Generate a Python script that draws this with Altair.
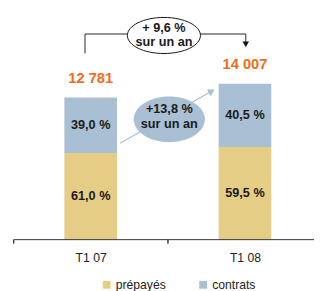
import altair as alt
import pandas as pd

# ---- data ----
periods = ["T1 07", "T1 08"]
totals = [12781, 14007]
series = ["prépayés", "contrats"]
prepaid_share = [61.0, 59.5]
contract_share = [39.0, 40.5]
top_note = ["+ 9,6 %", "sur un an"]
mid_note = ["+13,8 %", "sur un an"]

colors = ["#E6CD86", "#A9BFD3"]
ORANGE = "#F26B21"
INK = "#1a1a1a"
FONT = "Liberation Sans"

rows = []
for i, p in enumerate(periods):
    start = 0.0
    for j, (s, share) in enumerate(zip(series, [prepaid_share[i], contract_share[i]])):
        v = totals[i] * share / 100
        rows.append(dict(period=p, series=s, order=j, start=start, end=start + v,
                         mid=start + v / 2,
                         label=f"{share:.1f}".replace(".", ",") + " %"))
        start += v
seg = pd.DataFrame(rows)
tot = pd.DataFrame({"period": periods, "total": totals,
                    "label": [f"{t:,}".replace(",", " ") for t in totals]})

# point scale: category centres one 158px step apart, first one 79px in
xscale = alt.Scale(type="point", domain=periods, padding=0.4728, align=0.5267, round=False)
yscale = alt.Scale(domain=[0, 20500])
xaxis = alt.Axis(title=None, ticks=False, tickSize=0, labelAngle=0, domain=False,
                 labelFont=FONT, labelFontSize=12.5, labelColor="#222",
                 labelPadding=12)

def X():
    return alt.X("period:N", sort=periods, scale=xscale, axis=xaxis)

bars = alt.Chart(seg).mark_bar(width=54).encode(
    x=X(),
    y=alt.Y("end:Q", scale=yscale, axis=None),
    y2="start:Q",
    color=alt.Color("series:N", sort=series,
                    scale=alt.Scale(domain=series, range=colors),
                    legend=alt.Legend(title=None, orient="none", direction="horizontal",
                                      legendX=89, legendY=274, symbolType="square",
                                      symbolSize=64, symbolStrokeWidth=0,
                                      labelFont=FONT, labelFontSize=12.5,
                                      labelColor="#222", labelOffset=3,
                                      columnPadding=32, padding=0)),
)

one = alt.Data(values=[{"k": 1}])

# axis baseline (kept inside the window) and category tick marks between categories
baseline = alt.Chart(one).mark_rule(color="#333", strokeWidth=1).encode(
    x=alt.value(0), x2=alt.value(308), y=alt.value(234))
ticks = alt.Chart(seg).mark_rule(color="#333", strokeWidth=1, xOffset=-79).encode(
    x=X(),
    y=alt.value(234), y2=alt.value(238),
)

seg_text = alt.Chart(seg).mark_text(font=FONT, fontSize=13, fontWeight="bold",
                                    color=INK, baseline="middle").encode(
    x=X(),
    y=alt.Y("mid:Q", scale=yscale, axis=None),
    text="label:N",
)

tot_text = alt.Chart(tot).mark_text(font=FONT, fontSize=15, fontWeight="bold",
                                    color=ORANGE, baseline="middle", dy=-20).encode(
    x=X(),
    y=alt.Y("total:Q", scale=yscale, axis=None),
    text="label:N",
)

def ellipse_path(r):
    k = 0.5523
    return (f"M -1 0 C -1 {-k*r:.4f} {-k:.4f} {-r:.4f} 0 {-r:.4f} "
            f"C {k:.4f} {-r:.4f} 1 {-k*r:.4f} 1 0 "
            f"C 1 {k*r:.4f} {k:.4f} {r:.4f} 0 {r:.4f} "
            f"C {-k:.4f} {r:.4f} -1 {k*r:.4f} -1 0 Z")

# top bracket annotation
br_left = alt.Chart(one).mark_rule(color="#222", strokeWidth=1).encode(
    x=alt.value(73), y=alt.value(23), y2=alt.value(43))
br_top = alt.Chart(one).mark_rule(color="#222", strokeWidth=1).encode(
    x=alt.value(73), x2=alt.value(238), y=alt.value(23))
br_right = alt.Chart(one).mark_rule(color="#222", strokeWidth=1).encode(
    x=alt.value(238), y=alt.value(23), y2=alt.value(32))
br_head = alt.Chart(one).mark_point(shape="triangle-down", filled=True, color="#111",
                                    size=45, opacity=1).encode(
    x=alt.value(238), y=alt.value(33.5))
top_ell = alt.Chart(one).mark_point(shape=ellipse_path(37 / 75), size=75 * 75,
                                    filled=False, fill="white", fillOpacity=1,
                                    stroke="#111", strokeWidth=1, opacity=1).encode(
    x=alt.value(154), y=alt.value(24.5))
top_t1 = alt.Chart(one).mark_text(font=FONT, fontSize=13, fontWeight="bold", color=INK,
                                  baseline="middle", text=top_note[0]).encode(
    x=alt.value(154), y=alt.value(16.5))
top_t2 = alt.Chart(one).mark_text(font=FONT, fontSize=13, fontWeight="bold", color=INK,
                                  baseline="middle", text=top_note[1]).encode(
    x=alt.value(154), y=alt.value(31.5))

# middle arrow + ellipse
mid_line = alt.Chart(one).mark_rule(color=colors[1], strokeWidth=1.2).encode(
    x=alt.value(109), y=alt.value(135), x2=alt.value(202), y2=alt.value(82.3))
mid_head = alt.Chart(one).mark_point(shape="triangle-up", filled=True, color=colors[1],
                                     size=60, angle=60, opacity=1).encode(
    x=alt.value(203), y=alt.value(81.7))
mid_ell = alt.Chart(one).mark_point(shape=ellipse_path(47 / 73), size=73 * 73,
                                    filled=True, color=colors[1], opacity=1).encode(
    x=alt.value(159.5), y=alt.value(110.5))
mid_t1 = alt.Chart(one).mark_text(font=FONT, fontSize=13, fontWeight="bold", color=INK,
                                  baseline="middle", text=mid_note[0]).encode(
    x=alt.value(159.5), y=alt.value(100))
mid_t2 = alt.Chart(one).mark_text(font=FONT, fontSize=13, fontWeight="bold", color=INK,
                                  baseline="middle", text=mid_note[1]).encode(
    x=alt.value(159.5), y=alt.value(115))

chart = alt.layer(
    bars, baseline, ticks, seg_text, tot_text,
    br_left, br_top, br_right, br_head, top_ell, top_t1, top_t2,
    mid_line, mid_head, mid_ell, mid_t1, mid_t2,
).properties(
    width=308, height=234,
    autosize=alt.AutoSizeParams(type="none"),
    padding={"left": 6, "top": 0, "right": 0, "bottom": 49},
).configure_view(strokeWidth=0)

chart.save("out.html", embed_options={"renderer": "svg", "actions": False})
